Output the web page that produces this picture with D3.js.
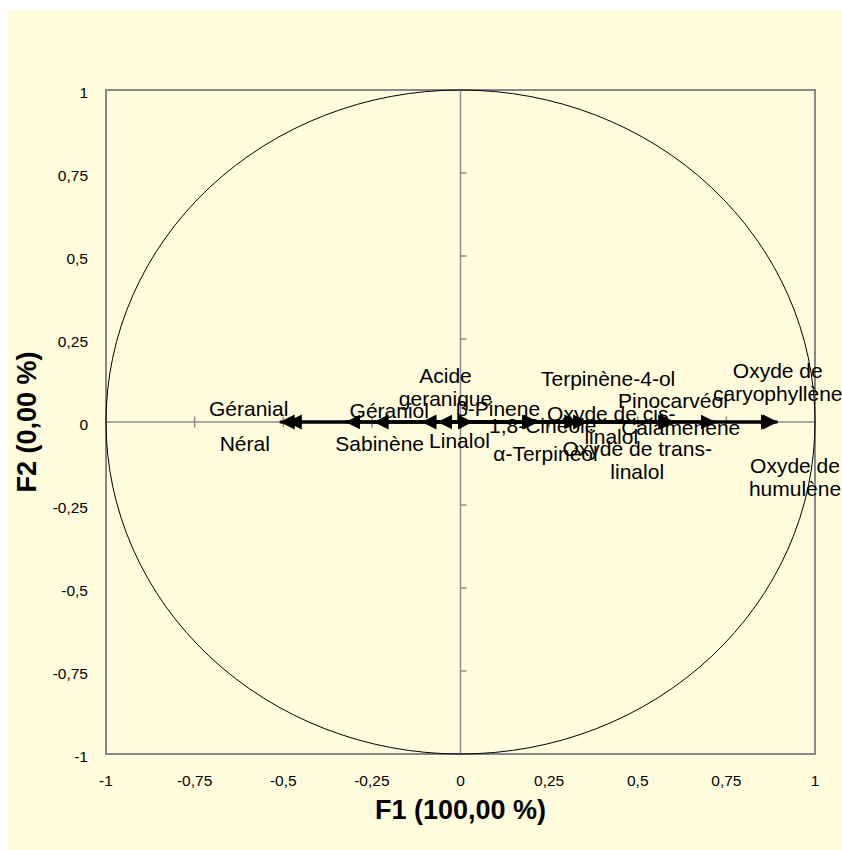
<!DOCTYPE html>
<html><head><meta charset="utf-8">
<script src="https://cdn.jsdelivr.net/npm/d3@7"></script>
<style>body{margin:0;background:#fff}svg{display:block}</style>
</head><body>
<svg id="c" width="842" height="850"></svg>
<script>
// ---- data ----
const categories = ["Géranial","Néral","Géraniol","Sabinène","Acide\ngeranique","Linalol","β-Pinene","1,8-Cinéole","α-Terpinéol","Oxyde de cis-\nlinalol","Terpinène-4-ol","Oxyde de trans-\nlinalol","Pinocarvéol","Calamenene","Oxyde de\ncaryophyllène","Oxyde de\nhumulène"];
const f1Values = [-0.51,-0.49,-0.325,-0.245,-0.11,-0.065,0.035,0.215,0.22,0.335,0.36,0.6,0.605,0.72,0.895,0.89];
const f2Values = [0,0,0,0,0,0,0,0,0,0,0,0,0,0,0,0];
const xTicks = [-1,-0.75,-0.5,-0.25,0,0.25,0.5,0.75,1];
const yTicks = [-1,-0.75,-0.5,-0.25,0,0.25,0.5,0.75,1];
const xTitle = "F1 (100,00 %)";
const yTitle = "F2 (0,00 %)";
// label layout (pixel offsets from arrow tip)
const labelDx = [-31,-42,44,6,24,22,25,6,7,32,20,-36,-2,-35,0,19];
const labelDy = [-14,21,-12,21,-35.5,18,-14,3,31,3,-44,38,-22,5,-40.5,55];

const svg = d3.select("#c");
svg.append("rect").attr("x",8).attr("y",10).attr("width",842-8).attr("height",850-10).attr("fill","#FFFCDD");

const L=106,R=815,T=90,B=754;
const x = d3.scaleLinear().domain([-1,1]).range([L,R]);
const y = d3.scaleLinear().domain([-1,1]).range([B,T]);
const fmt = v => String(v).replace(".",",");

// plot border
svg.append("rect").attr("x",L).attr("y",T).attr("width",R-L).attr("height",B-T)
  .attr("fill","none").attr("stroke","#878787").attr("stroke-width",2);

// central axes
svg.append("line").attr("x1",x(0)).attr("x2",x(0)).attr("y1",T).attr("y2",B).attr("stroke","#8c8c8c").attr("stroke-width",1.5);
svg.append("line").attr("x1",L).attr("x2",R).attr("y1",y(0)).attr("y2",y(0)).attr("stroke","#8c8c8c").attr("stroke-width",1.5);
// tick marks on central axes
svg.selectAll(".xt").data(xTicks.filter(d=>Math.abs(d)<1)).enter().append("line")
  .attr("x1",d=>x(d)).attr("x2",d=>x(d)).attr("y1",y(0)-5.5).attr("y2",y(0)+5.5).attr("stroke","#8c8c8c").attr("stroke-width",1.5);
svg.selectAll(".yt").data(yTicks.filter(d=>Math.abs(d)<1)).enter().append("line")
  .attr("x1",x(0)).attr("x2",x(0)+6).attr("y1",d=>y(d)).attr("y2",d=>y(d)).attr("stroke","#8c8c8c").attr("stroke-width",1.5);

// tick labels
const tickFont = "'Liberation Sans', Arial, sans-serif";
svg.selectAll(".xl").data(xTicks).enter().append("text")
  .attr("x",d=>x(d)).attr("y",B+26).attr("text-anchor","middle").attr("dominant-baseline","central")
  .attr("font-family",tickFont).attr("font-size",15.5).attr("fill","#000").text(fmt);
svg.selectAll(".yl").data(yTicks).enter().append("text")
  .attr("x",L-18).attr("y",d=>y(d)+2).attr("text-anchor","end").attr("dominant-baseline","central")
  .attr("font-family",tickFont).attr("font-size",15.5).attr("fill","#000").text(fmt);

// correlation circle
svg.append("ellipse").attr("cx",x(0)).attr("cy",y(0)).attr("rx",x(1)-x(0)).attr("ry",y(0)-y(1))
  .attr("fill","none").attr("stroke","#000").attr("stroke-width",1);

// arrows
svg.append("defs").append("marker").attr("id","ah").attr("markerUnits","userSpaceOnUse")
  .attr("markerWidth",16).attr("markerHeight",16).attr("viewBox","0 -8 16 16")
  .attr("refX",15).attr("refY",0).attr("orient","auto")
  .append("path").attr("d","M0,-7.5L15,0L0,7.5Z").attr("fill","#000");
const pts = categories.map((c,i)=>({c, fx:f1Values[i], fy:f2Values[i], dx:labelDx[i], dy:labelDy[i]}));
svg.selectAll(".ar").data(pts).enter().append("line")
  .attr("x1",x(0)).attr("y1",y(0)).attr("x2",d=>x(d.fx)).attr("y2",d=>y(d.fy))
  .attr("stroke","#000").attr("stroke-width",3.2).attr("marker-end","url(#ah)");

// labels
const lg = svg.selectAll(".lb").data(pts).enter().append("text")
  .attr("font-family",tickFont).attr("font-size",21).attr("fill","#000").attr("text-anchor","middle");
lg.each(function(d){
  const lines = d.c.split("\n");
  const cx = x(d.fx)+d.dx, cy = y(d.fy)+d.dy;
  const lh = 23;
  const t = d3.select(this);
  lines.forEach((s,k)=>{
    t.append("tspan").attr("x",cx).attr("y",cy + (k-(lines.length-1)/2)*lh).attr("dominant-baseline","central").text(s);
  });
});

// axis titles
svg.append("text").attr("x",(L+R)/2).attr("y",810).attr("text-anchor","middle").attr("dominant-baseline","central")
  .attr("font-family",tickFont).attr("font-weight","bold").attr("font-size",27).text(xTitle);
svg.append("text").attr("transform",`translate(27,${(T+B)/2}) rotate(-90)`).attr("text-anchor","middle").attr("dominant-baseline","central")
  .attr("font-family",tickFont).attr("font-weight","bold").attr("font-size",27).text(yTitle);
</script>
</body></html>
